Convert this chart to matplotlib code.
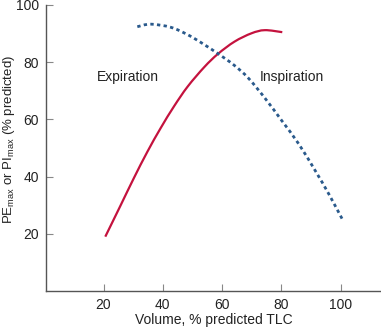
import matplotlib
matplotlib.use("Agg")
import matplotlib.pyplot as plt
from matplotlib.path import Path
from matplotlib.patches import PathPatch

plt.rcParams['font.family'] = ['Liberation Sans', 'DejaVu Sans']
plt.rcParams['mathtext.fontset'] = 'custom'
plt.rcParams['mathtext.rm'] = 'Liberation Sans'
plt.rcParams['mathtext.it'] = 'Liberation Sans'

# Maximal expiratory pressure vs lung volume
exp_volume = [20.6, 25.7, 30.2, 34.8, 39.3, 43.8, 48.4, 54.0, 58.6, 64.2, 69.9, 74.4, 80.3]
exp_pressure = [19.0, 29.8, 39.4, 48.7, 57.0, 64.6, 71.5, 78.3, 82.9, 87.2, 90.1, 91.2, 90.5]

# Maximal inspiratory pressure vs lung volume
insp_volume = [31.4, 35.9, 42.7, 48.4, 53.0, 58.6, 64.0, 68.8, 74.4, 80.1, 85.8, 91.4, 96.0, 100.5]
insp_pressure = [92.4, 93.3, 92.2, 89.6, 86.8, 83.0, 79.0, 74.5, 67.5, 59.6, 51.5, 42.1, 33.9, 25.2]

x_ticks = [20, 40, 60, 80, 100]
y_ticks = [20, 40, 60, 80, 100]


def smooth_path(xs, ys, tension=6.0):
    """Cubic Bezier path through the points (Catmull-Rom control points)."""
    pts = list(zip(xs, ys))
    verts = [pts[0]]
    codes = [Path.MOVETO]
    n = len(pts)
    for i in range(n - 1):
        p0 = pts[i - 1] if i > 0 else pts[i]
        p1 = pts[i]
        p2 = pts[i + 1]
        p3 = pts[i + 2] if i + 2 < n else pts[i + 1]
        c1 = (p1[0] + (p2[0] - p0[0]) / tension, p1[1] + (p2[1] - p0[1]) / tension)
        c2 = (p2[0] - (p3[0] - p1[0]) / tension, p2[1] - (p3[1] - p1[1]) / tension)
        verts += [c1, c2, p2]
        codes += [Path.CURVE4] * 3
    return Path(verts, codes)


fig = plt.figure(figsize=(3.81, 3.28), dpi=100)
ax = fig.add_axes([46 / 381, 1 - 291 / 328, 1 - 46 / 381, (291 - 5) / 328])

ax.add_patch(PathPatch(smooth_path(exp_volume, exp_pressure), fill=False,
                       edgecolor='#c4123e', lw=1.6, capstyle='butt'))
ax.add_patch(PathPatch(smooth_path(insp_volume, insp_pressure), fill=False,
                       edgecolor='#2a5a8c', lw=2.0, linestyle=(0, (1.2, 1.2))))

ax.text(17.9, 74.7, 'Expiration', fontsize=10, color='#222222', va='center')
ax.text(72.6, 74.7, 'Inspiration', fontsize=10, color='#222222', va='center')

ax.set_xlim(0.6, 113.6)
ax.set_ylim(0, 100)
ax.set_xticks(x_ticks)
ax.set_yticks(y_ticks)

for s in ['top', 'right']:
    ax.spines[s].set_visible(False)
for s in ['left', 'bottom']:
    ax.spines[s].set_color('#555555')
    ax.spines[s].set_linewidth(1.0)

ax.tick_params(axis='both', direction='in', length=5, width=0.8, color='#888888',
               labelsize=10, labelcolor='#222222', pad=5)

ax.set_xlabel('Volume, % predicted TLC', fontsize=10, color='#222222', labelpad=1)
ax.set_ylabel(r'P$\mathrm{E}_{\mathrm{max}}$ or P$\mathrm{I}_{\mathrm{max}}$ (% predicted)',
              fontsize=9.5, color='#222222')
ax.yaxis.set_label_coords(-29 / 335, 0.528)

fig.savefig('out.png', dpi=100)
